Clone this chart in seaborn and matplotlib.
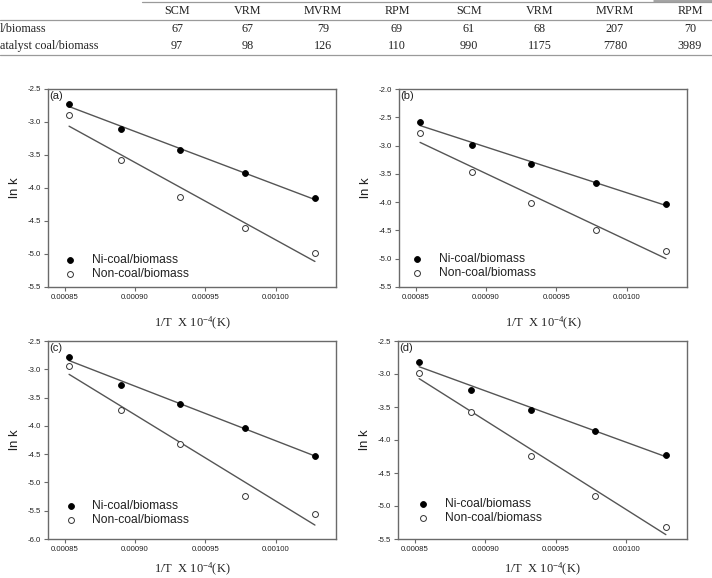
"""
Arrhenius plots (ln k vs 1/T) for Ni-catalysed and non-catalysed coal/biomass,
four panels, with the tail of the activation-energy table above them.

Outputs:
  out.png
"""

import matplotlib

matplotlib.use("Agg")
import matplotlib.pyplot as plt
import pandas as pd
import seaborn as sns
from matplotlib.lines import Line2D
from matplotlib.ticker import FormatStrFormatter, MultipleLocator

W, H = 712, 578

# table fragment (top of the page)
TABLE_HEADERS = ["SCM", "VRM", "MVRM", "RPM", "SCM", "VRM", "MVRM", "RPM"]
TABLE_ROW_LABELS = ["l/biomass", "atalyst coal/biomass"]
TABLE_ROW_1 = ["67", "67", "79", "69", "61", "68", "207", "70"]
TABLE_ROW_2 = ["97", "98", "126", "110", "990", "1175", "7780", "3989"]

# 1/T (K^-1) for 1173, 1123, 1073, 1023, 973 K
INV_T = [0.000853, 0.000890, 0.000932, 0.000978, 0.001028]

PANEL_TAGS = ["(a)", "(b)", "(c)", "(d)"]
NI_LNK = [
    [-2.72, -3.10, -3.43, -3.78, -4.15],
    [-2.59, -2.99, -3.32, -3.66, -4.03],
    [-2.79, -3.28, -3.61, -4.03, -4.53],
    [-2.82, -3.24, -3.54, -3.87, -4.22],
]
NON_LNK = [
    [-2.90, -3.58, -4.13, -4.60, -4.98],
    [-2.78, -3.46, -4.01, -4.49, -4.86],
    [-2.95, -3.72, -4.32, -5.24, -5.55],
    [-2.98, -3.58, -4.24, -4.85, -5.32],
]
Y_LIMITS = [(-5.5, -2.5), (-5.5, -2.0), (-6.0, -2.5), (-5.5, -2.5)]
SERIES_LABELS = ["Ni-coal/biomass", "Non-coal/biomass"]

X_LIMITS = (0.000838, 0.001043)
X_TICKS = [0.00085, 0.00090, 0.00095, 0.00100]

# axes boxes in pixels: left, top, right, bottom
AX_BOXES = [(48, 89, 336, 287), (399, 89, 687, 287), (48, 341, 336, 539), (398, 341, 687, 539)]
LEGEND_ANCHORS = [(0.034, 0.005), (0.02, 0.01), (0.037, 0.035), (0.046, 0.045)]
XLABEL_Y = [-0.14, -0.14, -0.112, -0.112]

SANS = ["Liberation Sans", "DejaVu Sans"]
SERIF = ["Liberation Serif", "DejaVu Serif"]
AX_GREY = "#6a6a6a"
LINE_GREY = "#555555"


def fx(x):
    return x / W


def fy(y):
    return 1 - y / H


def draw_table(fig):
    col_x = [177, 248, 323, 397, 469, 540, 615, 690]
    kw = dict(family=SERIF, fontsize=8.7, color="#222222", va="center")
    for x, h in zip(col_x, TABLE_HEADERS):
        fig.text(fx(x), fy(11), h, ha="center", **kw)
    for row_y, label, vals in [(28.5, TABLE_ROW_LABELS[0], TABLE_ROW_1), (46, TABLE_ROW_LABELS[1], TABLE_ROW_2)]:
        fig.text(fx(0), fy(row_y), label, ha="left", **kw)
        for x, v in zip(col_x, vals):
            fig.text(fx(x), fy(row_y), v, ha="center", **kw)

    lines = [
        ((142, 712), (2, 2), "#9a9a9a", 0.9),
        ((654, 712), (1, 1), "#8a8a8a", 1.1),
        ((0, 712), (20, 20), "#9a9a9a", 0.9),
        ((0, 712), (55, 55), "#9a9a9a", 0.9),
    ]
    for xs, ys, c, lw in lines:
        fig.add_artist(Line2D([fx(xs[0]), fx(xs[1])], [fy(ys[0]), fy(ys[1])],
                              transform=fig.transFigure, color=c, lw=lw))


def draw_panel(fig, i):
    l, t, r, b = AX_BOXES[i]
    ax = fig.add_axes([fx(l), fy(b), (r - l) / W, (b - t) / H])

    df = pd.concat([
        pd.DataFrame({"inv_t": INV_T, "ln_k": NI_LNK[i], "series": SERIES_LABELS[0]}),
        pd.DataFrame({"inv_t": INV_T, "ln_k": NON_LNK[i], "series": SERIES_LABELS[1]}),
    ])

    for s in SERIES_LABELS:
        sub = df[df["series"] == s]
        sns.regplot(data=sub, x="inv_t", y="ln_k", scatter=False, ci=None, truncate=True,
                    color=LINE_GREY, line_kws={"lw": 1.0}, ax=ax)

    ni = df[df["series"] == SERIES_LABELS[0]]
    non = df[df["series"] == SERIES_LABELS[1]]
    sns.scatterplot(data=ni, x="inv_t", y="ln_k", marker="o", s=18, color="black",
                    edgecolor="black", linewidth=0.6, label=SERIES_LABELS[0], ax=ax, zorder=3)
    sns.scatterplot(data=non, x="inv_t", y="ln_k", marker="o", s=18, color="white",
                    edgecolor="#333333", linewidth=0.7, label=SERIES_LABELS[1], ax=ax, zorder=3)

    ax.set_xlim(*X_LIMITS)
    ax.set_ylim(*Y_LIMITS[i])
    ax.set_xticks(X_TICKS)
    ax.xaxis.set_major_formatter(FormatStrFormatter("%.5f"))
    ax.yaxis.set_major_locator(MultipleLocator(0.5))
    ax.yaxis.set_major_formatter(FormatStrFormatter("%.1f"))
    ax.tick_params(axis="both", direction="out", length=3, width=0.8, color=AX_GREY,
                   labelsize=5.6, pad=2, labelcolor="#222222", left=True, bottom=True)
    for lab in ax.get_xticklabels() + ax.get_yticklabels():
        lab.set_family(SANS)
    for sp in ax.spines.values():
        sp.set_color(AX_GREY)
        sp.set_linewidth(1.0)

    ax.set_ylabel("ln k", family=SANS, fontsize=9.5, color="#222222")
    ax.yaxis.set_label_coords(-0.095, 0.5)
    ax.set_xlabel(r"1/T  X 10$^{-4}$(K)", family=SERIF, fontsize=9, color="#222222")
    ax.xaxis.set_label_coords(0.5, XLABEL_Y[i])

    ax.text(0.005, 0.99, PANEL_TAGS[i], transform=ax.transAxes, ha="left", va="top",
            family=SANS, fontsize=8, color="#222222")

    leg = ax.legend(loc="lower left", bbox_to_anchor=LEGEND_ANCHORS[i], frameon=False,
                    handlelength=1.0, handletextpad=1.3, labelspacing=0.15, borderpad=0,
                    prop={"family": SANS, "size": 8.7})
    for txt in leg.get_texts():
        txt.set_color("#222222")
    return ax


def main():
    sns.set_theme(style="white")
    plt.rcParams["font.family"] = SANS
    plt.rcParams["axes.unicode_minus"] = False
    plt.rcParams["mathtext.fontset"] = "custom"
    plt.rcParams["mathtext.rm"] = "Liberation Serif"
    plt.rcParams["mathtext.it"] = "Liberation Serif:italic"

    fig = plt.figure(figsize=(W / 100, H / 100), dpi=100)
    fig.patch.set_facecolor("white")
    draw_table(fig)
    for i in range(4):
        draw_panel(fig, i)
    fig.savefig("out.png", dpi=100, facecolor="white")
    plt.close(fig)


if __name__ == "__main__":
    main()
